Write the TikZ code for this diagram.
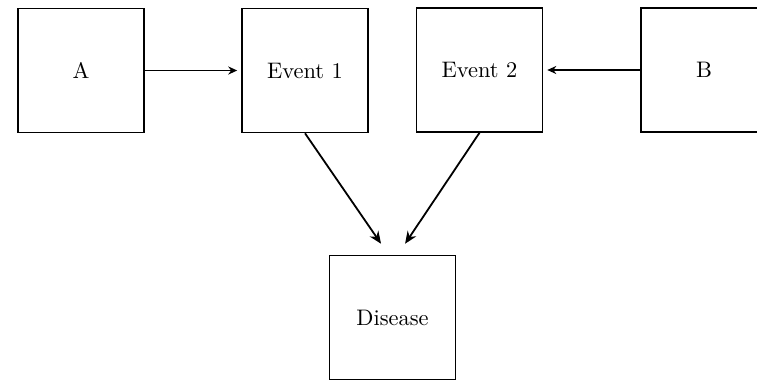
\documentclass[tikz,border=0pt]{standalone}
\usetikzlibrary{positioning}
\usetikzlibrary{arrows.meta}
\begin{document}
\begin{tikzpicture}[x=0.4454pt, y=-0.4454pt,
    box/.style={draw, line width=0.7pt, minimum width=56.1pt, minimum height=55.2pt, inner sep=0pt},
    link/.style={line width=0.7pt, -{Stealth[length=4pt, width=3.6pt]}},
    biglink/.style={line width=0.8pt, -{Stealth[length=5.5pt, width=4.6pt]}}]
    \useasboundingbox (0,0) rectangle (757,382);

    % Boxes
    \node[box] (A) at (81,70.5) {A};
    \node[box] (ev1) at (305,70.5) {Event 1};
    \node[box] (ev2) at (479.5,70) {Event 2};
    \node[box] (B) at (704,70) {B};
    \node[box] (dis) at (392.5,317.5) {Disease};

    % Arrows
    \draw[link, shorten >=1.8pt] (A.east) -- (ev1.west);
    \draw[link, shorten >=1.8pt] (B.west) -- (ev2.east);
    \draw[biglink] (ev1.south) -- ([xshift=-5.1pt, yshift=4.9pt]dis.north);
    \draw[biglink] (ev2.south) -- ([xshift=5.6pt, yshift=4.9pt]dis.north);
\end{tikzpicture}
\end{document}
